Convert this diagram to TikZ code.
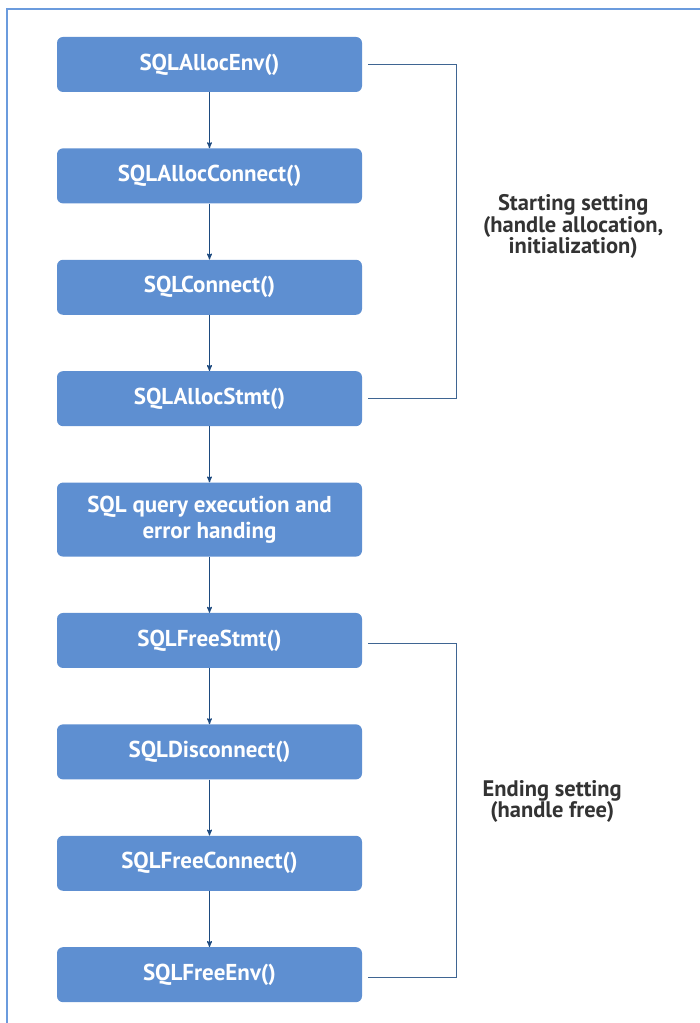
\documentclass[tikz,border=0pt]{standalone}
\usepackage{fontspec}
\setmainfont{PT Sans}
\usepackage{xcolor}
\usepackage{tikz}
\usetikzlibrary{shapes,arrows,positioning,calc}
\definecolor{odbcbox}{RGB}{94, 143, 209}
\definecolor{odbcnavy}{RGB}{29, 74, 127}
\definecolor{odbcframe}{RGB}{107, 155, 221}
\definecolor{odbctext}{RGB}{51, 51, 51}

\begin{document}
\begin{tikzpicture}[x=1pt, y=1pt, node distance=56pt, >=stealth',
    callbox/.style={rectangle, rounded corners=6pt, fill=odbcbox, minimum width=305pt, minimum height=55pt, align=center, text=white, font=\fontsize{23}{26}\selectfont\bfseries},
    flow/.style={->, line width=1.1pt, odbcnavy},
    bracket/.style={line width=1.1pt, odbcnavy!85!white},
    phase/.style={align=center, text=odbctext, font=\fontsize{22.5}{21.5}\selectfont\bfseries}]
    \useasboundingbox (0,0) rectangle (700,1023);
    % outer frame
    \draw [odbcframe, line width=1.6pt] (7,0) -- (7,1014) -- (700,1014);

    \node [callbox] (allocenv) at (209.5,958.5) {SQLAllocEnv()};
    \node [callbox, below=of allocenv] (allocconnect) {SQLAllocConnect()};
    \node [callbox, below=of allocconnect] (connect) {SQLConnect()};
    \node [callbox, below=of connect] (allocstmt) {SQLAllocStmt()};
    \node [callbox, below=of allocstmt, minimum height=74pt] (query) {SQL query execution and\\error handing};
    \node [callbox, below=of query] (freestmt) {SQLFreeStmt()};
    \node [callbox, below=of freestmt] (disconnect) {SQLDisconnect()};
    \node [callbox, below=of disconnect] (freeconnect) {SQLFreeConnect()};
    \node [callbox, below=of freeconnect] (freeenv) {SQLFreeEnv()};

    \draw [flow] (allocenv) -- (allocconnect);
    \draw [flow] (allocconnect) -- (connect);
    \draw [flow] (connect) -- (allocstmt);
    \draw [flow] (allocstmt) -- (query);
    \draw [flow] (query) -- (freestmt);
    \draw [flow] (freestmt) -- (disconnect);
    \draw [flow] (disconnect) -- (freeconnect);
    \draw [flow] (freeconnect) -- (freeenv);

    % phase brackets
    \draw [bracket] ([xshift=6pt]allocenv.east) -- ++(88pt,0) |- ([xshift=6pt]allocstmt.east);
    \draw [bracket] ([xshift=6pt,yshift=-3pt]freestmt.east) -- ++(88pt,0) |- ([xshift=6pt,yshift=-3pt]freeenv.east);

    \node [phase] (startphase) at ($(allocenv.east)!0.5!(allocstmt.east) + (211pt,5pt)$) {Starting setting\\(handle allocation,\\initialization)};
    \node [phase] (endphase) at ($(freestmt.east)!0.5!(freeenv.east) + (190pt,6pt)$) {Ending setting\\(handle free)};
\end{tikzpicture}
\end{document}
